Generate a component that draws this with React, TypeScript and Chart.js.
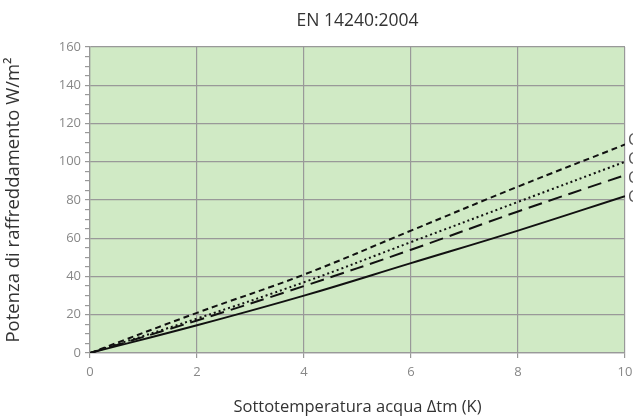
import React, { useEffect, useRef } from "react";
import { Chart, registerables } from "chart.js";

Chart.register(...registerables);

const xValues = [0, 2, 4, 6, 8, 10];
const seriesShortDash = [0, 21, 41, 64, 87, 109];
const seriesDotted = [0, 18, 37, 58, 79, 100];
const seriesLongDash = [0, 17, 35, 54, 74, 93];
const seriesSolid = [0, 14.5, 30, 47, 64, 82];
const endLabels = ["C", "C", "C", "C"];

const titleText = "EN 14240:2004";
const xTitle = "Sottotemperatura acqua \u0394tm (K)";
const yTitle = "Potenza di raffreddamento W/m\u00b2";

const FONT = "'Open Sans', 'Noto Sans', sans-serif";

const bgPlugin = {
  id: "plotBg",
  beforeDraw(chart: any) {
    const { ctx, chartArea } = chart;
    ctx.save();
    ctx.fillStyle = "#d0eac5";
    ctx.fillRect(chartArea.left, chartArea.top, chartArea.right - chartArea.left, chartArea.bottom - chartArea.top);
    ctx.restore();
  },
};

const endLabelPlugin = {
  id: "endLabels",
  afterDraw(chart: any) {
    const { ctx, chartArea } = chart;
    const ys: number[] = [];
    chart.data.datasets.forEach((_: any, i: number) => {
      const meta = chart.getDatasetMeta(i);
      const last = meta.data[meta.data.length - 1];
      ys.push(last.y);
    });
    const mean = ys.reduce((a, b) => a + b, 0) / ys.length;
    const gap = 19;
    ctx.save();
    ctx.font = `16px ${FONT}`;
    ctx.fillStyle = "#555";
    ctx.textAlign = "left";
    ctx.textBaseline = "middle";
    endLabels.forEach((t, i) => {
      const y = mean + (i - (endLabels.length - 1) / 2) * gap;
      ctx.fillText(t, chartArea.right + 3, y);
    });
    ctx.restore();
  },
};

function toPoints(vals: number[]) {
  return vals.map((v, i) => ({ x: xValues[i], y: v }));
}

export default function App() {
  const ref = useRef<HTMLCanvasElement>(null);
  useEffect(() => {
    if (!ref.current) return;
    const common = {
      borderColor: "#111",
      borderWidth: 2,
      pointRadius: 0,
      fill: false,
      tension: 0.4,
    };
    const chart = new Chart(ref.current, {
      type: "line",
      data: {
        datasets: [
          { ...common, label: "a", data: toPoints(seriesShortDash), borderDash: [6, 4] },
          { ...common, label: "b", data: toPoints(seriesDotted), borderDash: [2, 3] },
          { ...common, label: "c", data: toPoints(seriesLongDash), borderDash: [14, 7] },
          { ...common, label: "d", data: toPoints(seriesSolid) },
        ],
      },
      options: {
        animation: false,
        responsive: false,
        layout: { padding: { left: 0, right: 0, top: 0, bottom: 0 } },
        plugins: {
          legend: { display: false },
          tooltip: { enabled: false },
          title: {
            display: true,
            text: titleText,
            fullSize: false,
            color: "#333",
            font: { family: FONT, size: 17.5, weight: "normal" },
            padding: { top: 11, bottom: 15 },
          },
        },
        scales: {
          x: {
            type: "linear",
            min: 0,
            max: 10,
            ticks: { stepSize: 2, color: "#888", font: { family: FONT, size: 13 }, padding: 6 },
            grid: { color: "#999", lineWidth: 1.2, tickLength: 5, tickColor: "#999" },
            border: { color: "#999", width: 1.2 },
            title: {
              display: true,
              text: xTitle,
              color: "#333",
              font: { family: FONT, size: 16.5 },
              padding: { top: 4, bottom: 2 },
            },
            afterFit(scale: any) {
              scale.height = 66;
              scale.paddingRight = 8;
              scale.paddingLeft = 0;
            },
          },
          y: {
            min: 0,
            max: 160,
            ticks: {
              stepSize: 5,
              autoSkip: false,
              color: "#888",
              font: { family: FONT, size: 13 },
              padding: 4,
              callback: (v: any) => (Number(v) % 20 === 0 ? String(v) : ""),
            },
            grid: {
              color: (c: any) => (c.tick && c.tick.value % 20 === 0 ? "#999" : "rgba(0,0,0,0)"),
              lineWidth: 1.2,
              tickLength: 5,
              tickColor: "#999",
            },
            border: { color: "#999", width: 1.2 },
            title: {
              display: true,
              text: yTitle,
              color: "#333",
              font: { family: FONT, size: 18.5 },
              padding: { top: 3, bottom: 4 },
            },
            afterFit(scale: any) {
              scale.width = 90;
            },
          },
        },
      },
      plugins: [bgPlugin, endLabelPlugin],
    });
    return () => chart.destroy();
  }, []);
  return (
    <div style={{ position: "fixed", left: 0, top: 0, width: 633, height: 419 }}>
      <canvas ref={ref} width={633} height={419} style={{ width: 633, height: 419 }} />
    </div>
  );
}
